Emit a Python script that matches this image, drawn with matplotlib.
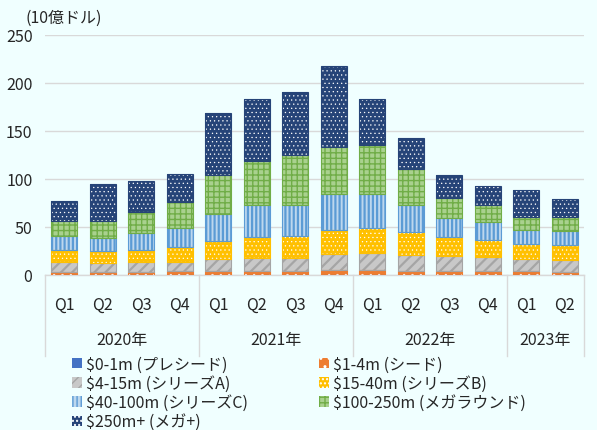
import matplotlib
matplotlib.use("Agg")
import matplotlib.pyplot as plt
from matplotlib.patches import Patch
import numpy as np

plt.rcParams['font.family'] = ['Noto Sans CJK JP', 'DejaVu Sans']

quarters = ["Q1", "Q2", "Q3", "Q4", "Q1", "Q2", "Q3", "Q4", "Q1", "Q2", "Q3", "Q4", "Q1", "Q2"]
years = ["2020年", "2021年", "2022年", "2023年"]
year_counts = [4, 4, 4, 2]

series_names = ["$0-1m (プレシード)", "$1-4m (シード)", "$4-15m (シリーズA)", "$15-40m (シリーズB)",
                "$40-100m (シリーズC)", "$100-250m (メガラウンド)", "$250m+ (メガ+)"]

pre_seed = [0.3, 0.3, 0.3, 0.3, 0.3, 0.3, 0.3, 0.3, 0.3, 0.3, 0.3, 0.3, 0.3, 0.3]
seed = [2.7, 2.7, 2.7, 4.2, 4.2, 4.2, 4.2, 5.2, 5.2, 4.2, 4.2, 4.2, 4.2, 3.2]
series_a = [10.5, 9.8, 10.5, 9.0, 12.5, 13.5, 13.5, 16.4, 17.8, 16.7, 15.6, 14.6, 12.5, 12.5]
series_b = [12.5, 12.5, 12.5, 16.0, 18.8, 22.0, 23.0, 25.3, 26.0, 23.9, 19.9, 17.7, 15.6, 15.6]
series_c = [15.0, 13.7, 18.0, 19.5, 27.7, 33.0, 32.0, 37.2, 35.1, 27.9, 19.7, 18.8, 14.6, 14.6]
mega = [15.0, 17.0, 21.6, 27.0, 41.0, 45.75, 52.3, 49.3, 51.4, 37.4, 20.5, 17.4, 13.2, 14.2]
mega_plus = [21.0, 39.0, 32.4, 29.0, 64.5, 64.55, 65.3, 84.0, 47.5, 32.3, 24.0, 19.7, 28.1, 18.8]

data = [pre_seed, seed, series_a, series_b, series_c, mega, mega_plus]

# (facecolor, hatch, hatchcolor, bordercolor, hatch linewidth)
styles = [
    ("#4472C4", "", "#4472C4", "#4472C4", 1.0),
    ("#ED7D31", "..", "#FFFFFF", "#ED7D31", 0.4),
    ("#C8C8C8", "///", "#A5A5A5", "#A5A5A5", 1.6),
    ("#FFC000", "....", "#FFFFFF", "#FFC000", 0.4),
    ("#BDD7EE", "||||", "#5B9BD5", "#5B9BD5", 1.6),
    ("#A9D18E", "+++", "#70AD47", "#70AD47", 1.0),
    ("#264478", "....", "#FFFFFF", "#264478", 0.4),
]

bg = "#F0FFFF"
txt = "#262626"
grid_c = "#D9D9D9"
fs = 11.5

fig = plt.figure(figsize=(5.97, 4.31), dpi=100, facecolor=bg)
ax = fig.add_axes([45/597, 1-276/431, (584-45)/597, 240/431])
ax.set_facecolor(bg)

def set_hlw(p, lw):
    if hasattr(p, 'set_hatch_linewidth'):
        p.set_hatch_linewidth(lw)
    else:
        p._hatch_linewidth = lw

x = np.arange(len(quarters))
width = 0.675
bottom = np.zeros(len(quarters))
for vals, (fc, h, hc, ec, hlw) in zip(data, styles):
    v = np.array(vals)
    with plt.rc_context({'hatch.linewidth': hlw}):
        bars = ax.bar(x, v, width, bottom=bottom, color=fc, hatch=h, edgecolor=hc, linewidth=0, zorder=3)
    for p in bars:
        set_hlw(p, hlw)
    ax.bar(x, v, width, bottom=bottom, facecolor='none', edgecolor=ec, linewidth=0.8, zorder=4)
    bottom += v

ax.set_xlim(-0.5, len(quarters) - 0.5)
ax.set_ylim(0, 250)
ax.set_yticks([0, 50, 100, 150, 200, 250])
ax.tick_params(axis='y', length=0, pad=9, labelsize=fs, labelcolor=txt)
ax.yaxis.grid(True, color=grid_c, linewidth=1, zorder=0)
ax.set_axisbelow(True)
for s in ['left', 'right', 'top']:
    ax.spines[s].set_visible(False)
ax.spines['bottom'].set_color(grid_c)
ax.spines['bottom'].set_linewidth(1)

ax.set_xticks(x)
ax.set_xticklabels(quarters)
ax.tick_params(axis='x', length=0, pad=15, labelsize=fs, labelcolor=txt)

trans = ax.get_xaxis_transform()
bounds = [-0.5]
for c in year_counts:
    bounds.append(bounds[-1] + c)
for b in bounds:
    ax.plot([b, b], [0, -81/240], color=grid_c, linewidth=1, transform=trans, clip_on=False)
for i, yname in enumerate(years):
    cx = (bounds[i] + bounds[i+1]) / 2
    ax.text(cx, -65/240, yname, transform=trans, ha='center', va='center', fontsize=fs, color=txt)

fig.text(25/597, 1-18/431, "(10億ドル)", ha='left', va='center', fontsize=fs, color=txt)

handles = []
for (fc, h, hc, ec, hlw), name in zip(styles, series_names):
    p = Patch(facecolor=fc, hatch=h, edgecolor=hc, linewidth=0, label=name)
    set_hlw(p, hlw)
    handles.append(p)

left_idx = [0, 2, 4, 6]
right_idx = [1, 3, 5]
common = dict(frameon=False, fontsize=fs, handlelength=0.6, handleheight=0.6, handletextpad=0.3,
              labelspacing=0.13, borderpad=0, borderaxespad=0, labelcolor=txt)
leg1 = fig.legend([handles[i] for i in left_idx], [series_names[i] for i in left_idx],
                  loc='upper left', bbox_to_anchor=(72/597, 1-357/431), **common)
leg2 = fig.legend([handles[i] for i in right_idx], [series_names[i] for i in right_idx],
                  loc='upper left', bbox_to_anchor=(319/597, 1-357/431), **common)

fig.savefig("out.png", dpi=100, facecolor=bg)
